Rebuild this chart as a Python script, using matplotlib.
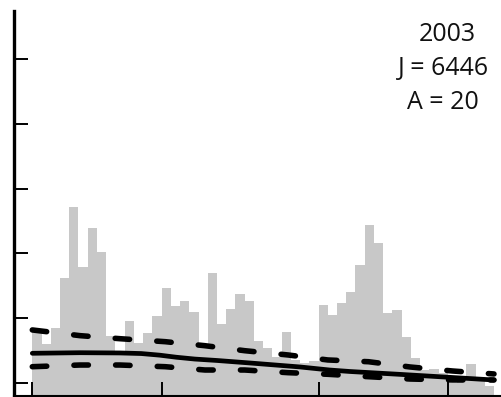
import numpy as np
import matplotlib
matplotlib.use("Agg")
import matplotlib.pyplot as plt

# ---- data (bar heights in axis units; bar k spans [k, k+1]) ----
bar_heights = [1.02, 0.80, 1.05, 1.82, 2.92, 1.99, 2.59, 2.22, 0.93, 0.68,
               1.16, 0.82, 0.97, 1.23, 1.67, 1.39, 1.47, 1.30, 0.77, 1.90,
               1.11, 1.34, 1.57, 1.47, 0.85, 0.74, 0.60, 0.99, 0.56, 0.51,
               0.54, 1.40, 1.25, 1.44, 1.60, 2.02, 2.64, 2.36, 1.28, 1.33,
               0.91, 0.59, 0.40, 0.42, 0.35, 0.20, 0.25, 0.49, 0.29, 0.15]

mid_x = [0, 5.17, 9.5, 11.8, 13.8, 15.6, 17.6, 20.0, 23.6, 29.0, 32.2, 34.4, 39.8, 45.2, 50.0]
mid_y = [0.659, 0.668, 0.664, 0.655, 0.630, 0.598, 0.570, 0.548, 0.509, 0.448, 0.401, 0.378, 0.334, 0.288, 0.247]

band_x = [0, 5.17, 9.5, 14.4, 18.7, 23.0, 27.7, 32.0, 36.4, 40.9, 45.5, 50.0]
upper_y = [1.019, 0.931, 0.884, 0.838, 0.776, 0.699, 0.633, 0.556, 0.529, 0.448, 0.386, 0.340]
lower_y = [0.452, 0.478, 0.478, 0.452, 0.401, 0.401, 0.360, 0.335, 0.298, 0.262, 0.247, 0.247]

x_ticks = [0, 14, 31, 45]
y_ticks = [0.2, 1.2, 2.2, 3.2, 4.2, 5.2]

text_lines = ["2003", "J = 6446", "A = 20"]

# ---- figure ----
W, H = 501, 397
fig = plt.figure(figsize=(W / 100, H / 100), dpi=100)
ax = fig.add_axes([14.3 / W, 1 / H, 1 - 14.3 / W, (396 - 11) / H])

x = np.arange(len(bar_heights))
ax.bar(x, bar_heights, width=1.0, align="edge", color="#c8c8c8", linewidth=0, zorder=1)

ax.plot(mid_x, mid_y, color="black", lw=3.4, solid_capstyle="round",
        solid_joinstyle="round", zorder=3)
for yy in (upper_y, lower_y):
    ax.plot(band_x, yy, color="black", lw=4.0, linestyle=(0, (2.6, 4.9)),
            dash_capstyle="round", zorder=4)

ax.set_xlim(-1.95, 50.76)
ax.set_ylim(0, 5.94)
ax.set_xticks(x_ticks)
ax.set_yticks(y_ticks)
ax.set_xticklabels([])
ax.set_yticklabels([])
ax.tick_params(axis="both", direction="in", length=10, width=1.4, color="black")

for s in ("top", "right"):
    ax.spines[s].set_visible(False)
ax.spines["left"].set_linewidth(2.4)
ax.spines["bottom"].set_linewidth(1.5)

font = dict(family=["Open Sans", "DejaVu Sans"], fontsize=18, color="#111111")
positions = [(447, 40.7), (443, 75), (443, 109)]
for t, (px, py) in zip(text_lines, positions):
    fig.text(px / W, 1 - py / H, t, ha="center", va="baseline", **font)

fig.savefig("out.png", dpi=100)
